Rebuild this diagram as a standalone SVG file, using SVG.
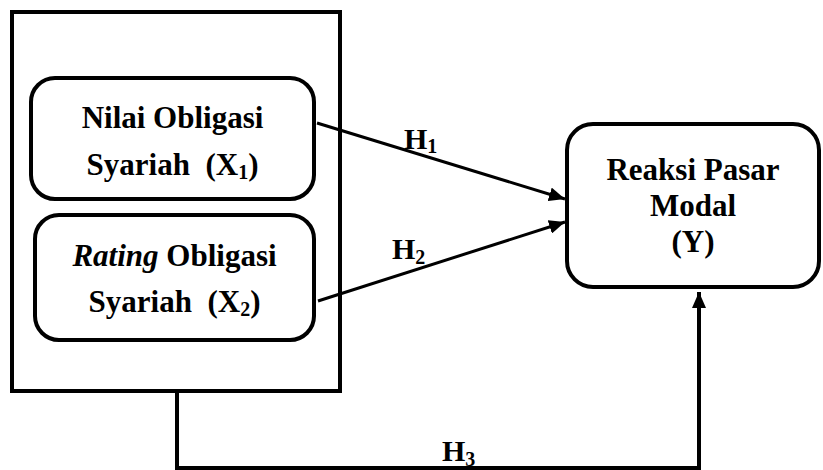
<svg xmlns="http://www.w3.org/2000/svg" width="823" height="470" viewBox="0 0 823 470">
<defs>
<style>
.box{fill:#fff;stroke:#000;stroke-width:4}
.t{font-family:"Liberation Serif","Times New Roman",serif;font-weight:bold;font-size:31px;fill:#000;text-anchor:middle}
.h{font-family:"Liberation Serif","Times New Roman",serif;font-weight:bold;font-size:30px;fill:#000}
.sub{font-size:20px}
.c{fill:none;stroke:#000;stroke-width:3}
.c4{fill:none;stroke:#000;stroke-width:4}
</style>
<marker id="ah" markerUnits="userSpaceOnUse" markerWidth="16" markerHeight="14" refX="16" refY="7" orient="auto">
<path d="M0,0 L16,7 L0,14 z" fill="#000"/>
</marker>
</defs>
<rect width="823" height="470" fill="#fff"/>
<g id="group-x">
<rect x="12" y="12" width="328" height="379" fill="none" stroke="#000" stroke-width="4"/>
</g>
<g id="node-x1">
<rect class="box" x="31" y="78" width="283" height="121" rx="24"/>
<text class="t" x="172.5" y="128">Nilai Obligasi</text>
<text class="t" x="172.5" y="175" xml:space="preserve">Syariah  (X<tspan class="sub" dy="4">1</tspan><tspan dy="-4">)</tspan></text>
</g>
<g id="node-x2">
<rect class="box" x="35" y="215" width="279" height="125" rx="24"/>
<text class="t" x="174.5" y="266"><tspan font-style="italic">Rating</tspan> Obligasi</text>
<text class="t" x="174.5" y="312" xml:space="preserve">Syariah  (X<tspan class="sub" dy="4">2</tspan><tspan dy="-4">)</tspan></text>
</g>
<g id="node-y">
<rect class="box" x="567" y="124" width="252" height="163" rx="26"/>
<text class="t" x="693" y="180">Reaksi Pasar</text>
<text class="t" x="693" y="216">Modal</text>
<text class="t" x="693" y="252">(Y)</text>
</g>
<g id="connectors">
<line class="c" x1="317" y1="123" x2="565" y2="199" marker-end="url(#ah)"/>
<line class="c" x1="318" y1="301" x2="565" y2="222" marker-end="url(#ah)"/>
<path class="c4" d="M177,391 V468 H699 V292" marker-end="url(#ah)"/>
<text class="h" x="404" y="149">H<tspan class="sub" dy="4">1</tspan></text>
<text class="h" x="392" y="259">H<tspan class="sub" dy="5">2</tspan></text>
<text class="h" x="442" y="461">H<tspan class="sub" dy="5">3</tspan></text>
</g>
</svg>
